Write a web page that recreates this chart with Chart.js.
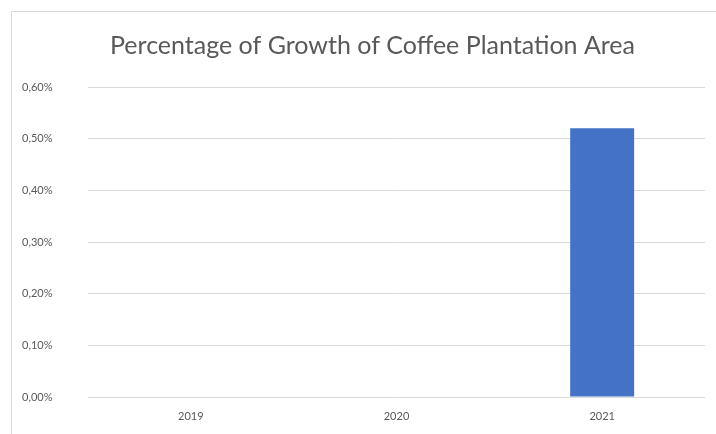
<!DOCTYPE html>
<html>
<head>
<meta charset="utf-8">
<script src="https://cdn.jsdelivr.net/npm/chart.js@4/dist/chart.umd.min.js"></script>
<style>
    html, body { margin: 0; padding: 0; background: #fff; }
    #wrap { position: relative; width: 716px; height: 434px; overflow: hidden; }
    #frame { position: absolute; left: 11px; top: 11px; width: 740px; height: 460px; border: 1px solid #d9d9d9; box-sizing: border-box; }
    #box { position: absolute; left: 0; top: 0; width: 716px; height: 434px; }
</style>
</head>
<body>
<div id="wrap">
    <div id="frame"></div>
    <div id="box"><canvas id="growth"></canvas></div>
</div>
<script>
const years = ['2019', '2020', '2021'];
const growthPct = [0, 0, 0.52];
const yTicks = [0, 0.1, 0.2, 0.3, 0.4, 0.5, 0.6];

const growth = document.getElementById('growth');
const growthCtx = growth ? growth.getContext('2d') : undefined;

const fmtPct = v => v.toFixed(2).replace('.', ',') + '%';

// nudge the title to the right so it sits centred over the framed area
const titleShift = {
    id: 'titleShift',
    afterLayout(chart) {
        const t = chart.titleBlock;
        if (t) t.left += 18;
    }
};

if (growthCtx) {
    new Chart(growthCtx, {
        type: 'bar',
        data: {
            labels: years,
            datasets: [
                {
                    label: 'Growth',
                    data: growthPct,
                    backgroundColor: '#4472C4',
                    borderWidth: 0,
                    barPercentage: 0.311,
                    categoryPercentage: 1
                }
            ]
        },
        options: {
            responsive: true,
            maintainAspectRatio: false,
            animation: false,
            layout: {
                padding: { left: 22, right: 11, top: 0, bottom: 0 }
            },
            plugins: {
                legend: { display: false },
                tooltip: { enabled: false },
                title: {
                    display: true,
                    text: 'Percentage of Growth of Coffee Plantation Area',
                    color: '#595959',
                    font: { family: 'Lato', size: 25, weight: 'normal', lineHeight: 1.2 },
                    padding: { top: 31, bottom: 26 }
                }
            },
            scales: {
                x: {
                    grid: { display: false, drawTicks: false },
                    border: { display: false },
                    afterFit: axis => { axis.height = 37; },
                    ticks: {
                        color: '#595959',
                        padding: 13,
                        font: { family: 'Lato', size: 11 }
                    }
                },
                y: {
                    min: 0,
                    max: 0.6,
                    afterBuildTicks: axis => {
                        axis.ticks = yTicks.map(v => ({ value: v }));
                    },
                    afterFit: axis => { axis.width = 66; },
                    grid: { color: '#d9d9d9', drawTicks: false, lineWidth: 1 },
                    border: { display: false },
                    ticks: {
                        color: '#595959',
                        padding: 4,
                        crossAlign: 'far',
                        font: { family: 'Lato', size: 11 },
                        callback: v => fmtPct(v)
                    }
                }
            }
        },
        plugins: [titleShift]
    });
}
</script>
</body>
</html>
